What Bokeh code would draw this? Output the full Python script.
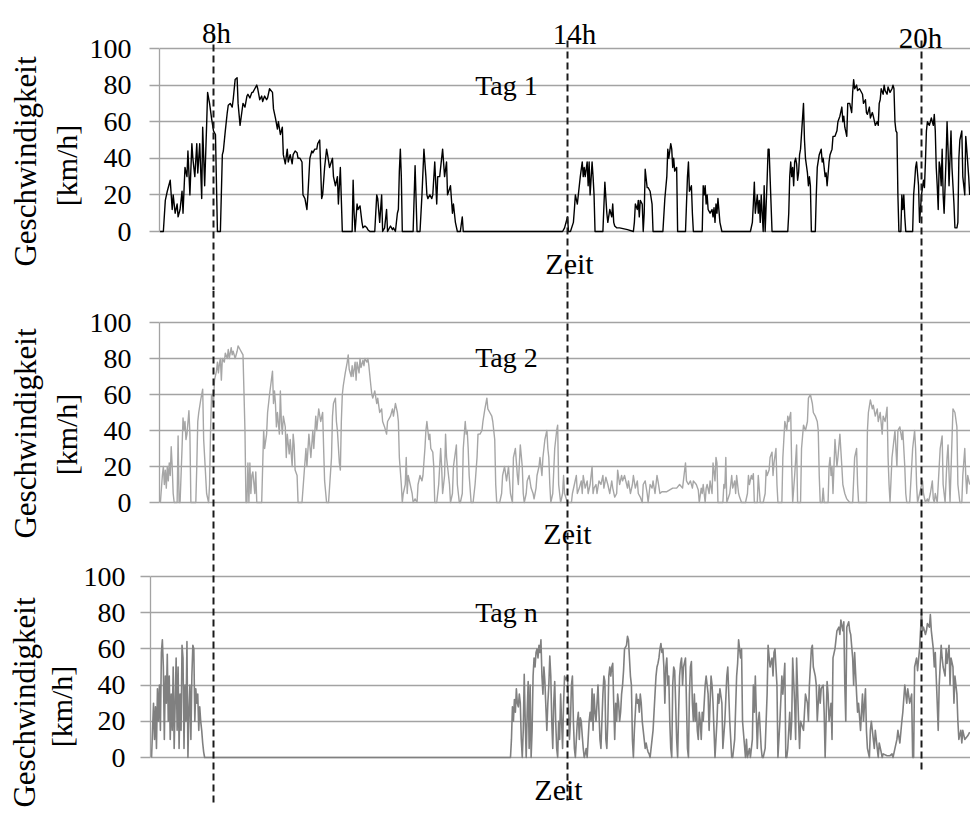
import numpy as np
from bokeh.plotting import figure
from bokeh.models import Range1d, FixedTicker, Label
from bokeh.layouts import column, row
from bokeh.embed import file_html
from bokeh.resources import INLINE

# ---------------- data: time in minutes after midnight, speed in km/h ----------------
t1 = [425, 429, 431, 433, 436, 438, 439, 441, 443, 444, 446, 448, 449, 451, 453, 454, 456, 458, 459, 461,
      463, 464, 466, 468, 469, 471, 473, 474, 476, 478,
      480, 482, 484, 487, 489, 490, 492, 494, 495, 497, 499, 500, 502, 504, 505, 507, 509, 510, 512, 514,
      515, 517, 519, 520, 522, 524, 525, 527, 529, 530, 532, 534, 535, 537,
      540, 541, 543, 545, 546, 548, 550, 551, 553, 555, 556, 558, 560, 561, 563, 565, 566, 568, 570, 571,
      573, 575, 576, 578, 580, 581, 583, 585, 586, 588, 590, 591, 593, 595, 596, 598,
      601, 602, 604, 606, 607, 609, 611, 621, 622, 623, 624, 626, 627, 629, 631, 632, 634, 636, 637, 639,
      644, 646, 647, 649, 651, 652, 654, 656, 657,
      660, 662, 663, 665, 667, 668, 669, 670, 671, 672, 683, 685, 687, 690, 692, 694, 696, 697, 698, 700,
      702, 703, 705, 707, 708, 710, 712, 713, 715, 717, 718,
      721, 723, 724, 726, 728, 731, 733, 734,
      835, 837, 840, 841, 843, 846, 847, 848, 850, 851, 853, 855, 856, 857, 858, 860, 861, 862, 863, 865,
      866, 867, 868, 876, 878, 880, 881, 883, 885, 886, 887, 888, 890, 893,
      901, 907, 908, 909, 911, 912, 913, 914, 916, 917, 918, 919, 921, 922, 924, 926, 927, 937, 939, 941,
      942, 943, 945, 946, 947, 948, 949, 951, 952,
      960, 962, 963, 964, 966, 967, 968, 977, 978, 979, 980, 981, 982, 983, 985, 987, 988, 989, 990, 991,
      992, 993, 995, 997,
      1026, 1028, 1029, 1030, 1031, 1033, 1034, 1035, 1036, 1037, 1039, 1040, 1041, 1043, 1044, 1045, 1046,
      1048, 1064, 1065, 1066, 1067, 1068, 1069, 1070, 1071, 1072, 1073, 1074, 1075, 1076, 1077,
      1080, 1081, 1082, 1084, 1085, 1086, 1087, 1088, 1092, 1093, 1094, 1096, 1098, 1099, 1100, 1102, 1103,
      1104, 1106, 1107, 1109, 1110, 1112, 1114, 1115, 1117, 1119, 1120, 1121, 1122, 1124, 1125, 1127, 1129,
      1130, 1131, 1132, 1134, 1135, 1137,
      1140, 1141, 1143, 1144, 1145, 1147, 1148, 1150, 1151, 1153, 1155, 1156, 1157, 1158, 1159, 1161, 1162,
      1163, 1165, 1166, 1168, 1170, 1171, 1172, 1173, 1174, 1175, 1176, 1177, 1179, 1180, 1181, 1182, 1183,
      1184, 1191, 1192, 1193, 1194, 1195, 1197, 1198,
      1200, 1202, 1203, 1204, 1205, 1206, 1208, 1209, 1210, 1212, 1213, 1214, 1215, 1216, 1217, 1218, 1219,
      1220, 1221, 1222, 1223, 1225, 1226, 1227, 1228, 1230, 1231, 1232, 1233, 1234, 1236, 1237, 1238, 1239,
      1241, 1242, 1244, 1245, 1246, 1248, 1249]
v1 = [0, 0, 17, 22, 28, 12, 20, 10, 15, 8, 12, 22, 10, 35, 30, 44, 20, 48, 40, 30,
      48, 32, 48, 18, 57, 25, 58, 76, 70, 62,
      55, 53, 0, 0, 42, 44, 55, 65, 69, 70, 68, 72, 83, 84, 70, 58, 66, 70, 68, 74,
      75, 73, 76, 76, 78, 80, 78, 72, 74, 71, 74, 72, 73, 78,
      76, 67, 62, 56, 60, 53, 57, 42, 37, 45, 38, 42, 37, 42, 44, 43, 40, 40, 38, 20,
      18, 12, 20, 40, 44, 43, 45, 45, 48, 50, 18, 20, 35, 45, 42, 35,
      40, 30, 25, 30, 15, 35, 0, 0, 28, 10, 0, 15, 12, 14, 5, 2, 3, 2, 1, 0,
      0, 20, 18, 5, 20, 0, 2, 12, 0,
      3, 1, 2, 0, 10, 12, 33, 45, 30, 0, 0, 36, 0, 0, 20, 45, 30, 20, 18, 20,
      18, 20, 38, 15, 30, 30, 40, 45, 30, 38, 20,
      25, 10, 15, 5, 0, 0, 8, 0,
      0, 2, 8, 0, 0, 5, 12, 20, 15, 20, 30, 38, 30, 35, 30, 38, 25, 38, 20, 38,
      30, 20, 0, 0, 27, 10, 5, 12, 8, 15, 5, 3, 2, 2,
      1, 0, 5, 15, 12, 17, 8, 17, 15, 0, 10, 34, 24, 24, 22, 15, 0, 0, 18, 30,
      45, 40, 48, 45, 35, 40, 33, 35, 0,
      0, 30, 38, 22, 25, 10, 0, 0, 25, 20, 25, 15, 20, 12, 10, 12, 8, 13, 5, 15,
      10, 18, 5, 0,
      0, 5, 15, 27, 10, 20, 10, 17, 5, 20, 0, 25, 0, 28, 45, 45, 30,
      0, 0, 10, 30, 38, 30, 35, 25, 38, 40, 37, 28, 32, 42, 45,
      70, 50, 40, 32, 25, 30, 25, 0, 0, 20, 35, 42, 45, 38, 40, 30, 32,
      25, 38, 42, 45, 52, 52, 55, 60, 63, 68, 60, 63, 57, 52, 70, 70, 65,
      76, 83, 78, 80, 77, 78,
      75, 70, 72, 65, 64, 68, 62, 65, 63, 58, 60, 58, 70, 72, 78, 75, 80,
      77, 75, 79, 76, 78, 80, 78, 60, 55, 54, 20, 0, 0, 20, 12, 20, 8,
      0, 0, 20, 27, 35, 38, 25, 5,
      20, 28, 24, 38, 55, 60, 58, 60, 62, 58, 64, 55, 35, 25, 12, 38, 35,
      25, 45, 20, 10, 40, 60, 45, 25, 55, 35, 25, 15, 2, 2, 5, 40, 50,
      55, 30, 20, 52, 45, 30, 20]

t2 = [426, 428, 429, 430, 431, 432, 433, 434, 435, 436, 437, 438, 439, 440, 443, 444, 445, 446, 448, 449,
      450, 451, 452, 453, 455, 456, 457, 462, 463, 464, 465, 467, 469, 470, 472, 473, 475, 476, 477, 478,
      480, 481, 483, 484, 485, 486, 487, 488, 489, 491, 492, 494, 495, 496, 498, 499, 500, 502, 504, 505,
      507, 509, 510, 512, 513, 514, 515, 516, 517, 518, 519, 520, 522, 523, 524, 529, 530, 531, 532, 534,
      535, 537,
      540, 541, 542, 543, 544, 545, 547, 548, 549, 550, 551, 553, 554, 555, 557, 558, 560, 561, 562, 563,
      565, 566, 570, 572, 574, 575, 577, 579, 581, 582, 584, 585, 587, 589, 591, 592, 593, 595, 597,
      600, 601, 602, 604, 605, 606, 608, 609, 610, 611, 612, 614, 616, 617, 618, 620, 621, 622, 624, 625,
      626, 628, 629, 630, 632, 633, 634, 636, 637, 638, 640, 641, 642, 644, 646, 647, 649, 651, 652, 654,
      656, 657,
      660, 662, 663, 665, 667, 668, 669, 671, 672, 673, 675, 676, 677, 678, 680, 682, 683, 685, 687, 688,
      690, 692, 693, 695, 696, 697, 699, 700, 701, 703, 704, 705, 707, 709, 711, 712, 713, 715, 716, 717,
      720, 721, 723, 724, 726, 727, 728, 730, 731, 733, 734, 736, 737, 738, 739, 740, 742, 744, 746, 748,
      749, 751, 753, 754, 756, 758, 759, 761, 763, 764, 766, 767, 768, 771, 773, 774, 776, 778,
      780, 782, 784, 785, 787, 789, 790, 792, 794, 795, 796, 798, 799, 801, 803, 805, 806, 808, 809, 811,
      812, 814, 815, 817, 819, 820, 821, 822, 823, 825, 827, 829, 830, 831, 833, 835, 836, 837,
      840, 844, 845, 849, 850, 852, 854, 855, 856, 858, 860, 861, 863, 865, 866, 867, 869, 870, 872, 874,
      876, 877, 879, 881, 883, 885, 886, 888, 890, 891, 893, 895, 896, 898,
      901, 902, 904, 906, 907, 909, 911, 912, 914, 916, 917, 919, 921, 922, 924, 926, 927, 929, 931, 932,
      934, 936, 941, 944, 947, 951, 954, 957,
      960, 961, 963, 965, 967, 968, 971, 973, 974, 976, 977, 978, 980, 981, 982, 984, 985, 987, 988, 990,
      991, 992, 993, 998, 999, 1000, 1001, 1002, 1005, 1007, 1008, 1010, 1011, 1012, 1014, 1015, 1017,
      1021, 1023, 1024, 1025, 1027, 1028, 1029, 1030, 1033, 1034, 1036, 1039, 1041, 1042, 1043, 1045, 1046,
      1048, 1049, 1050, 1052, 1053, 1054, 1058, 1059, 1061, 1063, 1064, 1065, 1067, 1068, 1069, 1071, 1073,
      1074, 1077, 1078,
      1080, 1082, 1084, 1085, 1087, 1089, 1090, 1092, 1094, 1095, 1096, 1097, 1099, 1100, 1101, 1105, 1106,
      1107, 1108, 1109, 1110, 1112, 1114, 1115, 1117, 1119, 1120, 1122, 1124, 1127, 1130, 1132, 1134, 1135,
      1136,
      1144, 1145, 1146, 1148, 1150, 1151, 1153, 1155, 1156, 1158, 1160, 1161, 1163, 1165, 1166, 1167, 1168,
      1170, 1171, 1173, 1175, 1176, 1178, 1180, 1181, 1183, 1184, 1185, 1188, 1190, 1191, 1193, 1194, 1195,
      1196,
      1201, 1202, 1204, 1206, 1207, 1209, 1211, 1212, 1213, 1214, 1216, 1217, 1219, 1221, 1222, 1224, 1226,
      1227, 1229, 1231, 1232, 1234, 1236, 1237, 1239, 1241, 1242, 1244, 1245, 1246, 1247, 1249]
v2 = [0, 15, 20, 10, 18, 8, 20, 12, 22, 15, 31, 20, 5, 0, 0, 37, 0, 0, 30, 47,
      40, 45, 35, 38, 51, 38, 0, 0, 20, 45, 50, 57, 63, 35, 15, 5, 0, 10, 40, 60,
      55, 68, 73, 78, 72, 77, 80, 68, 80, 78, 83, 80, 85, 80, 86, 82, 84, 80, 84, 87,
      85, 83, 82, 40, 0, 0, 22, 0, 22, 5, 15, 17, 5, 17, 0, 0, 20, 40, 30, 38,
      50, 60,
      73, 55, 62, 55, 42, 50, 38, 62, 45, 38, 48, 42, 25, 38, 27, 35, 20, 38, 32, 18,
      15, 0, 0, 15, 30, 20, 38, 25, 40, 30, 48, 40, 52, 45, 50, 30, 12, 0, 0,
      25, 48, 55, 58, 45, 40, 22, 18, 45, 60, 65, 72, 78, 82, 74, 70, 76, 70, 78, 68,
      78, 72, 80, 75, 79, 76, 80, 78, 80, 76, 65, 60, 58, 62, 55, 58, 50, 52, 45, 42,
      38, 45,
      48, 52, 48, 55, 50, 45, 25, 10, 0, 5, 10, 25, 5, 15, 10, 5, 0, 2, 0, 10,
      15, 12, 15, 30, 40, 45, 35, 38, 30, 28, 20, 0, 0, 10, 30, 20, 5, 15, 38, 25,
      10, 0, 5, 20, 28, 32, 10, 0, 0, 5, 30, 45, 38, 40, 30, 15, 0, 0, 10, 25,
      38, 38, 40, 45, 52, 58, 52, 50, 48, 45, 35, 10, 0, 0, 5, 15, 20, 12,
      20, 5, 0, 25, 30, 15, 10, 32, 20, 5, 0, 5, 12, 15, 8, 5, 2, 8, 15, 20,
      25, 15, 25, 35, 40, 30, 25, 10, 0, 5, 30, 40, 43, 10, 0, 5, 15, 5,
      0, 0, 5, 15, 5, 8, 12, 5, 15, 8, 12, 5, 10, 20, 5, 8, 10, 5, 12, 10,
      15, 8, 14, 10, 5, 12, 8, 3, 5, 18, 10, 15, 12, 15,
      8, 12, 5, 10, 15, 8, 12, 5, 3, 0, 10, 12, 5, 0, 10, 8, 12, 5, 15, 12,
      5, 6, 6, 7, 8, 8, 10, 8,
      22, 12, 10, 12, 8, 12, 10, 7, 0, 8, 5, 10, 0, 8, 10, 5, 12, 5, 22, 12,
      25, 22, 0, 0, 10, 8, 25, 0, 5, 15, 8, 12, 5, 15, 5, 3, 0,
      0, 5, 15, 10, 15, 13, 16, 0, 0, 15, 0, 0, 5, 18, 15, 18, 25,
      28, 15, 22, 30, 10, 0, 0, 25, 45, 40, 48, 45, 50, 20, 0, 15, 32,
      0, 0, 30,
      43, 40, 45, 58, 60, 55, 50, 48, 45, 40, 15, 0, 0, 8, 0, 0, 20,
      25, 15, 20, 5, 35, 20, 25, 38, 20, 10, 5, 2, 0, 0, 25, 30, 10,
      0,
      0, 40, 50, 57, 52, 54, 48, 52, 45, 50, 38, 48, 45, 53, 25, 10, 0,
      25, 30, 40, 20, 40, 42, 35, 40, 20, 5, 0, 0, 20, 30, 40, 30, 10,
      0,
      12, 5, 0, 2, 0, 5, 12, 2, 0, 5, 0, 10, 30, 37, 10, 0, 25,
      32, 0, 35, 52, 50, 42, 10, 0, 0, 15, 30, 15, 5, 15, 10]

t3 = [417, 419, 420, 421, 422, 423, 424, 425, 426, 427, 428, 429, 430, 431, 432, 433, 434, 435, 436, 437,
      438, 439, 440, 441, 442, 443, 444, 445, 446, 447, 448, 449, 450, 451, 452, 453, 454, 455, 456, 457,
      458, 459, 460, 461, 462, 463, 464, 465, 466, 467, 468, 469, 470, 471,
      782, 783, 784, 785, 786, 787, 788, 789, 790, 791, 792, 793, 794, 795, 796, 797, 798, 799, 800, 801,
      802, 803, 804, 805, 806, 807, 808, 809, 810, 811, 812, 813, 814, 815, 816, 817, 818, 819, 820, 821,
      822, 823, 824, 825, 826, 827, 828, 829, 830, 831, 832, 833, 834, 835, 836, 837, 838,
      840, 841, 842, 843, 844, 845, 846, 847, 848, 849, 850, 851, 852, 853, 854, 855, 856, 857, 858, 859,
      860, 861, 862, 863, 864, 865, 866, 867, 868, 869, 870, 871, 872, 873, 874, 875, 876, 877, 878, 879,
      880, 881, 882, 883, 884, 885, 886, 887, 888, 889, 890, 891, 892, 893, 894, 895, 896, 897, 898,
      900, 901, 902, 903, 904, 905, 906, 907, 908, 909, 910, 911, 912, 913, 914, 915, 916, 917, 918, 919,
      920, 921, 922, 923, 924, 925, 926, 927, 928, 929, 930, 931, 932, 933, 934, 935, 936, 937, 938, 939,
      940, 941, 942, 943, 944, 945, 946, 947, 948, 949, 950, 951, 952, 953, 954, 955, 956, 957, 958,
      960, 961, 962, 963, 964, 965, 966, 967, 968, 969, 970, 971, 972, 973, 974, 975, 976, 977, 978, 979,
      980, 981, 982, 983, 984, 985, 986, 987, 988, 989, 990, 991, 992, 993, 994,
      995, 997, 998, 1000, 1002, 1003, 1005, 1007, 1008, 1010, 1012, 1013, 1014, 1016, 1017, 1018,
      1021, 1022, 1023, 1025, 1026, 1028, 1029, 1030, 1031, 1033, 1034, 1035, 1037, 1038, 1039, 1041, 1043,
      1044, 1046, 1048, 1049, 1050, 1051, 1053, 1054, 1056, 1058, 1059, 1061, 1062, 1063, 1064, 1066, 1067,
      1068, 1069, 1071, 1072, 1073, 1075, 1076, 1077,
      1080, 1081, 1082, 1084, 1085, 1086, 1088, 1089, 1090, 1092, 1093, 1094, 1096, 1097, 1098, 1100, 1101,
      1102, 1104, 1105, 1106, 1108, 1109, 1110, 1112, 1113, 1114, 1116, 1117, 1118, 1120, 1121, 1122, 1123,
      1124, 1126, 1127, 1128, 1130, 1131, 1132, 1134, 1135, 1136, 1138,
      1140, 1141, 1143, 1144, 1145, 1147, 1148, 1149, 1151, 1152, 1153, 1155, 1156, 1157, 1159, 1160, 1161,
      1165, 1168, 1170, 1171, 1173, 1175, 1176, 1178, 1180, 1181, 1183, 1185, 1186, 1188, 1190, 1191, 1192,
      1193, 1195, 1196, 1198,
      1200, 1201, 1202, 1204, 1205, 1206, 1208, 1209, 1210, 1212, 1213, 1214, 1216, 1217, 1218, 1220, 1221,
      1222, 1224, 1225, 1226, 1228, 1229, 1230, 1232, 1233, 1234, 1236, 1237, 1238, 1240, 1241, 1242, 1244,
      1247, 1249]
v3 = [0, 30, 10, 28, 5, 38, 20, 40, 15, 58, 65, 50, 10, 45, 30, 57, 20, 45, 10, 35,
      15, 50, 5, 30, 55, 15, 50, 5, 35, 15, 62, 55, 5, 40, 20, 64, 0, 25, 40, 10,
      45, 62, 60, 20, 38, 30, 35, 15, 28, 20, 15, 8, 3, 0,
      0, 10, 28, 20, 32, 25, 38, 30, 28, 35, 30, 10, 0, 15, 46, 20, 0, 25, 42, 5,
      40, 0, 15, 45, 55, 50, 58, 60, 55, 62, 58, 65, 45, 35, 50, 42, 28, 15, 30, 40,
      56, 45, 20, 5, 30, 42, 20, 5, 0, 20, 10, 35, 20, 5, 30, 45, 43,
      45, 30, 10, 20, 40, 45, 20, 5, 0, 10, 20, 25, 10, 22, 20, 12, 5, 0, 2, 5,
      0, 10, 20, 25, 20, 38, 15, 35, 25, 20, 30, 40, 25, 10, 5, 20, 35, 45, 42, 10,
      5, 20, 45, 50, 45, 50, 52, 30, 10, 30, 20, 35, 30, 20, 25, 35, 40, 48, 60,
      62, 67, 65, 55, 45, 40, 10, 0, 15, 25, 35, 30, 32, 25, 35, 30, 20, 15, 10, 5,
      8, 5, 3, 2, 0, 5, 10, 15, 25, 35, 45, 50, 52, 55, 60, 63, 58, 60, 50, 30,
      50, 55, 40, 45, 20, 5, 0, 40, 50, 48, 30, 10, 0, 25, 45, 52, 55, 40, 50,
      55, 30, 5, 0, 35, 50, 53, 30, 20, 35, 20, 30, 15, 10, 25, 20, 10, 25, 20, 30,
      40, 45, 40, 35, 15, 30, 45, 40, 30, 15, 0, 10, 20, 35, 30,
      38, 30, 5, 20, 45, 50, 20, 0, 0, 10, 45, 52, 65, 55, 60, 20,
      0, 10, 0, 5, 0, 10, 40, 25, 45, 5, 20, 25, 5, 0, 0, 5, 35,
      62, 50, 55, 45, 58, 60, 40, 0, 20, 45, 35, 52, 0, 0, 5, 25, 10,
      20, 55, 30, 10, 55, 20, 5, 20,
      15, 25, 35, 30, 20, 40, 60, 62, 50, 45, 40, 20, 40, 30, 38, 40, 25,
      0, 42, 35, 20, 30, 10, 55, 60, 65, 70, 72, 68, 76, 70, 75, 40, 20,
      72, 75, 70, 68, 55, 40, 58, 35, 25, 30, 15,
      35, 20, 38, 15, 5, 0, 15, 20, 10, 5, 15, 5, 0, 8, 3, 0, 2,
      1, 1, 2, 0, 5, 10, 15, 8, 20, 25, 40, 30, 38, 30, 35, 0, 0,
      50, 55, 48, 60,
      80, 70, 72, 68, 70, 74, 72, 79, 70, 60, 50, 58, 30, 15, 40, 62, 55,
      50, 45, 60, 52, 62, 40, 55, 50, 30, 45, 35, 20, 10, 15, 8, 15, 10,
      12, 14]

y_ticks = [0, 20, 40, 60, 80, 100]
mark_hours = [8, 14, 20]
mark_labels = ["8h", "14h", "20h"]
day_titles = ["Tag 1", "Tag 2", "Tag n"]
x_title = "Zeit"
y_title_1 = "Geschwindigkeit"
y_title_2 = "[km/h]"

# ---------------- styling / layout ----------------
FONT = "Liberation Serif"
GRID = "#a3a3a3"
W = 970
PX_PER_H = 59.0
X8 = 213.0  # canvas pixel of 8h


def hx(px):
    return 8.0 + (px - X8) / PX_PER_H


panels = [
    dict(t=t1, v=v1, color="#000000", lw=1.4, title=day_titles[0], top=0, h=290, left=159, strip=86,
         y0=231, y100=48, dash_top=[33, 40, 40], dash_bot=[290, 290, 290], standoff=18,
         title_pos=(506, 85), zeit_pos=(569, 263), g_pos=(25, 161), k_pos=(66, 165), marks=True),
    dict(t=t2, v=v2, color="#a6a6a6", lw=1.4, title=day_titles[1], top=290, h=263, left=159, strip=86,
         y0=502, y100=322, dash_top=[290, 290, 290], dash_bot=[553, 553, 553], standoff=18,
         title_pos=(506, 357), zeit_pos=(567, 533), g_pos=(25, 433), k_pos=(66, 434), marks=False),
    dict(t=t3, v=v3, color="#808080", lw=1.6, title=day_titles[2], top=553, h=261, left=150, strip=80,
         y0=757, y100=576, dash_top=[553, 553, 553], dash_bot=[805, 800, 773], standoff=15,
         title_pos=(506, 612), zeit_pos=(558, 789), g_pos=(24, 702), k_pos=(61, 706), marks=False),
]


def txt(p, x, y, text, size, align="center", baseline="alphabetic", angle=0.0):
    p.add_layout(Label(x=x, y=y, text=text, text_font=FONT, text_font_size=size,
                       text_align=align, text_baseline=baseline, angle=angle,
                       text_color="black"))


rows = []
for cfg in panels:
    s = (cfg["y0"] - cfg["y100"]) / 100.0

    def vy(py, cfg=cfg, s=s):
        return (cfg["y0"] - py) / s

    top, h = cfg["top"], cfg["h"]
    yr = (vy(top + h), vy(top))
    LW = cfg["strip"]

    # --- left strip holding the two-line y-axis title ---
    lf = figure(width=LW, height=h, x_range=Range1d(0, LW), y_range=Range1d(*yr),
                output_backend="svg", toolbar_location=None,
                x_axis_location=None, y_axis_location=None,
                min_border_left=0, min_border_right=0, min_border_top=0, min_border_bottom=0)
    lf.outline_line_color = None
    lf.background_fill_color = "white"
    lf.border_fill_color = "white"
    lf.xgrid.visible = False
    lf.ygrid.visible = False
    gx, gy = cfg["g_pos"]
    txt(lf, gx, vy(gy), y_title_1, "31px", baseline="middle", angle=np.pi / 2)
    kx, ky = cfg["k_pos"]
    txt(lf, kx, vy(ky), y_title_2, "30px", baseline="middle", angle=np.pi / 2)

    # --- main plot ---
    p = figure(width=W - LW, height=h,
               x_range=Range1d(hx(cfg["left"]), hx(W)),
               y_range=Range1d(*yr),
               output_backend="svg", toolbar_location=None, x_axis_location=None,
               min_border_left=cfg["left"] - LW, min_border_right=0,
               min_border_top=0, min_border_bottom=0)
    p.outline_line_color = None
    p.background_fill_color = "white"
    p.border_fill_color = "white"
    p.xgrid.visible = False

    ax = p.yaxis[0]
    ax.ticker = FixedTicker(ticks=y_ticks)
    ax.bounds = (0, 100)
    ax.axis_line_color = GRID
    ax.axis_line_width = 1.3
    ax.major_tick_line_color = GRID
    ax.major_tick_line_width = 1.3
    ax.major_tick_out = 10
    ax.major_tick_in = 0
    ax.minor_tick_line_color = None
    ax.major_label_text_font = FONT
    ax.major_label_text_font_size = "28px"
    ax.major_label_text_color = "black"
    ax.major_label_standoff = cfg["standoff"]

    p.ygrid.grid_line_color = GRID
    p.ygrid.grid_line_width = 1.3

    hours = np.array(cfg["t"], dtype=float) / 60.0
    p.line(hours, cfg["v"], line_color=cfg["color"], line_width=cfg["lw"], line_join="round")

    p.segment(x0=mark_hours, x1=mark_hours,
              y0=[vy(tp) for tp in cfg["dash_top"]], y1=[vy(b) for b in cfg["dash_bot"]],
              line_color="#1a1a1a", line_width=2, line_dash="7 4")

    if cfg["marks"]:
        for lab, bx, by in zip(mark_labels, [216, 574, 920], [32, 33, 37]):
            txt(p, hx(bx), vy(by), lab, "29px")

    tx, ty = cfg["title_pos"]
    txt(p, hx(tx), vy(ty), cfg["title"], "28px")
    zx, zy = cfg["zeit_pos"]
    txt(p, hx(zx), vy(zy), x_title, "30px")

    rows.append(row(lf, p, spacing=0))

layout = column(*rows, spacing=0)
open("out.html", "w").write(file_html(layout, INLINE))
